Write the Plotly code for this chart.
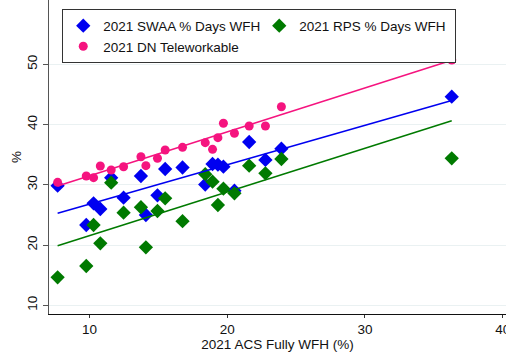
import plotly.graph_objects as go

# Data
acs_fully_wfh = [7.68, 9.76, 10.29, 10.78, 11.57, 12.47, 13.73, 14.09, 14.93, 15.49,
                 16.75, 18.40, 18.93, 19.32, 19.72, 20.52, 21.59, 22.77, 23.93, 36.30]
swaa_days_wfh = [29.85, 23.33, 26.93, 25.98, 31.18, 27.86, 31.46, 24.99, 28.26, 32.62,
                 32.87, 30.05, 33.45, 33.34, 33.00, 29.02, 37.10, 34.12, 35.99, 44.62]
rps_days_wfh = [14.65, 16.52, 23.33, 20.29, 30.35, 25.37, 26.27, 19.63, 25.65, 27.76,
                23.96, 31.76, 30.51, 26.65, 29.35, 28.59, 33.17, 31.91, 34.28, 34.40]
dn_teleworkable = [30.41, 31.46, 31.18, 33.12, 32.46, 33.00, 34.66, 33.17, 34.40, 35.78,
                   36.22, 36.99, 35.89, 37.82, 40.21, 38.55, 39.76, 39.76, 42.96, 50.71]

# Fitted lines (endpoints)
fit_x = [7.68, 36.30]
swaa_fit = [25.27, 43.99]
rps_fit = [19.89, 40.64]
dn_fit = [29.80, 50.66]

series_names = ["2021 SWAA % Days WFH", "2021 RPS % Days WFH", "2021 DN Teleworkable"]
series_values = [swaa_days_wfh, rps_days_wfh, dn_teleworkable]
series_fits = [swaa_fit, rps_fit, dn_fit]
series_colors = ["#0000F0", "#007A00", "#F5147F"]
series_symbols = ["diamond", "diamond", "circle"]
series_sizes = [11, 11, 9]

x_ticks = [10, 20, 30, 40]
y_ticks = [10, 20, 30, 40, 50]
x_title = "2021 ACS Fully WFH (%)"
y_title = "%"

FONT = "Liberation Sans, Arial, Helvetica, sans-serif"

fig = go.Figure()
for name, vals, col, sym, sz in zip(series_names, series_values, series_colors,
                                     series_symbols, series_sizes):
    fig.add_trace(go.Scatter(x=acs_fully_wfh, y=vals, mode="markers", name=name,
                             marker=dict(color=col, symbol=sym, size=sz,
                                         line=dict(width=0))))
for name, fit, col in zip(series_names, series_fits, series_colors):
    fig.add_trace(go.Scatter(x=fit_x, y=fit, mode="lines",
                             line=dict(color=col, width=1.5), showlegend=False,
                             hoverinfo="skip"))

fig.update_layout(
    width=506, height=352,
    margin=dict(l=48.7, r=0, t=0, b=38, autoexpand=False),
    paper_bgcolor="white", plot_bgcolor="white",
    font=dict(family=FONT, size=13.5, color="#111"),
    showlegend=True,
    legend=dict(orientation="h", x=0.029, y=0.970, xanchor="left", yanchor="top",
                bgcolor="white", bordercolor="#333", borderwidth=1,
                entrywidth=151, entrywidthmode="pixels",
                font=dict(family=FONT, size=13.5, color="#111"),
                tracegroupgap=0, itemclick=False),
    xaxis=dict(range=[7.054, 40.24], tickvals=x_ticks, ticks="outside", ticklen=3,
               tickcolor="#333", showline=True, linecolor="#111", linewidth=1.3,
               showgrid=False, zeroline=False, automargin=False,
               ticklabeloverflow="allow",
               title=dict(text=x_title, standoff=0, font=dict(size=13.5)),
               tickfont=dict(size=13.5)),
    yaxis=dict(range=[8.556, 60.67], tickvals=y_ticks, ticks="outside", ticklen=5,
               tickcolor="#555", showline=True, linecolor="#555", linewidth=1.3,
               showgrid=True, gridcolor="#EAF1F2", gridwidth=1, zeroline=False,
               automargin=False,
               tickangle=-90, tickfont=dict(size=13.5),
               title=dict(text=y_title, standoff=0, font=dict(size=13.5))),
)

fig.write_html("out.html", config={"displayModeBar": False},
               post_script="document.body.style.margin='0';")
